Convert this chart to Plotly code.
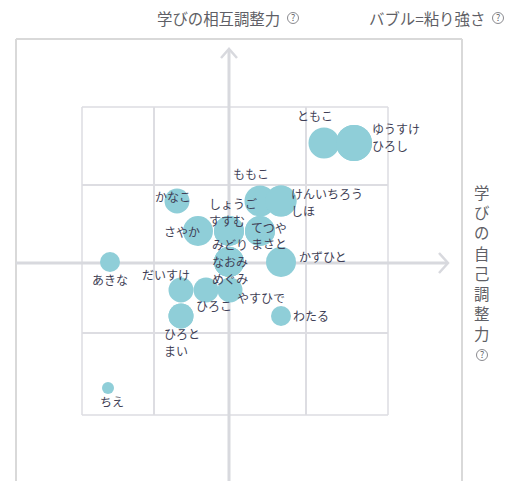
import plotly.graph_objects as go

FONT = "Noto Sans CJK JP"
W, H = 518, 481
# axis scale: plot fills the whole page
X_RANGE = [-22.9, 28.9]
Y_RANGE = [-21.8, 26.3]

names = ["ともこ", "ゆうすけ", "ひろし", "ももこ", "けんいちろう", "しほ", "かなこ", "さやか",
         "しょうご", "すすむ", "てつや", "まさと", "みどり", "なおみ", "めぐみ", "かずひと",
         "あきな", "だいすけ", "ひろこ", "やすひで", "わたる", "ひろと", "まい", "ちえ"]
mutual = [12.0, 12.0, 12.0, 6.2, 6.2, 6.2, 6.2, 3.2,
          3.2, 3.2, 3.2, 3.2, 0.1, 0.1, 0.1, 0.1,
          0.1, -2.7, -2.7, -2.7, -5.3, -5.3, -5.3, -12.5]
self_reg = [9.5, 12.5, 12.5, 3.1, 5.2, 5.2, -5.2, -3.1,
            0.0, 0.0, 3.1, 3.1, 0.0, 0.0, 0.0, 5.2,
            -11.9, -4.8, -2.3, 0.1, 5.2, -4.8, -4.8, -12.1]
stickiness = [31, 36, 36, 31, 31, 31, 25, 30,
              30, 30, 30, 30, 30, 30, 30, 30,
              20, 25, 25, 25, 20, 25, 25, 12]
label_dx = [-29, 16, 16, -29, 8, 8, -24, -36,
            -22, -22, -11, -11, -19, -19, -19, 16,
            -20, -41, -12, 5, 10, -19, -19, -10]
label_dy = [-28, -15, 2, -28, -8, 9, -5, 0,
            -28, -11, -4, 12, -18, -1, 16, -6,
            17, -16, 15, 7, -1, 17, 34, 13]

grid_x = [-14.7, -7.5, 0, 7.7, 15.9]
grid_y = [15.6, 7.8, 0, -7.0, -15.2]
frame_x = [-21.3, 23.3]
frame_top = 22.4

title_x = "学びの相互調整力"
title_size = "バブル=粘り強さ"
title_y = "学びの自己調整力"

GRID = "#dddde2"
FRAME = "#d9d9d9"
AXIS = "#d8d9de"
BUBBLE = "#8fced8"
TEXT = "#3f3f56"
TITLE = "#5f5f66"

fig = go.Figure()
shapes = []

def line(x0, y0, x1, y1, color, width):
    shapes.append(dict(type="line", x0=x0, y0=y0, x1=x1, y1=y1, xref="x", yref="y",
                       layer="below", line=dict(color=color, width=width)))

# outer frame (open at the bottom of the page)
line(frame_x[0], Y_RANGE[0], frame_x[0], frame_top, FRAME, 2)
line(frame_x[1], Y_RANGE[0], frame_x[1], frame_top, FRAME, 2)
line(frame_x[0], frame_top, frame_x[1], frame_top, FRAME, 2)
# inner grid
for gx in grid_x:
    if gx != 0:
        line(gx, grid_y[-1], gx, grid_y[0], GRID, 2 if gx not in (grid_x[0], grid_x[-1]) else 1.5)
for gy in grid_y:
    if gy != 0:
        line(grid_x[0], gy, grid_x[-1], gy, GRID, 2 if gy not in (grid_y[0], grid_y[-1]) else 1.5)
# centre axes with arrow heads
line(frame_x[0], 0, 21.9, 0, AXIS, 3)
line(0, Y_RANGE[0], 0, 21.4, AXIS, 3)
shapes.append(dict(type="path", path="M 21.0,1.0 L 21.9,0 L 21.0,-1.0", xref="x", yref="y",
                   layer="below", line=dict(color=AXIS, width=2.5)))
shapes.append(dict(type="path", path="M -0.8,20.5 L 0,21.4 L 0.8,20.5", xref="x", yref="y",
                   layer="below", line=dict(color=AXIS, width=2.5)))

fig.add_trace(go.Scatter(
    x=self_reg, y=mutual, mode="markers", text=names, hoverinfo="text",
    marker=dict(size=stickiness, sizemode="diameter", color=BUBBLE, opacity=1, line=dict(width=0)),
))

ann = []
for n, x, y, dx, dy in zip(names, self_reg, mutual, label_dx, label_dy):
    ann.append(dict(x=x, y=y, xref="x", yref="y", text=n, showarrow=False, xanchor="left",
                    yanchor="middle", xshift=dx, yshift=-dy,
                    font=dict(family=FONT, size=12, color=TEXT)))

def title(text, px, py, size=15.4, anchor="left"):
    ann.append(dict(x=px / W, y=1 - py / H, xref="paper", yref="paper", text=text, showarrow=False,
                    xanchor=anchor, yanchor="middle", font=dict(family=FONT, size=size, color=TITLE)))

def help_icon(px, py):
    r = 5.5
    shapes.append(dict(type="circle", xref="paper", yref="paper",
                       x0=(px - r) / W, x1=(px + r) / W,
                       y0=1 - (py + r) / H, y1=1 - (py - r) / H,
                       line=dict(color="#8a8a8f", width=1)))
    title("?", px, py - 0.5, size=9, anchor="center")

title(title_x, 155, 18.5)
help_icon(293, 18)
title(title_size, 367, 18.5)
help_icon(498, 18)
for i, ch in enumerate(title_y):
    title(ch, 481, 192 + i * 20.2, anchor="center")
help_icon(482, 355)

fig.update_layout(
    width=W, height=H, autosize=False, margin=dict(l=0, r=0, t=0, b=0),
    paper_bgcolor="white", plot_bgcolor="white", showlegend=False,
    xaxis=dict(range=X_RANGE, visible=False, fixedrange=True),
    yaxis=dict(range=Y_RANGE, visible=False, fixedrange=True),
    shapes=shapes, annotations=ann,
)
fig.write_html("out.html", config=dict(displayModeBar=False),
               post_script="document.body.style.margin='0';document.body.style.overflow='hidden';")
